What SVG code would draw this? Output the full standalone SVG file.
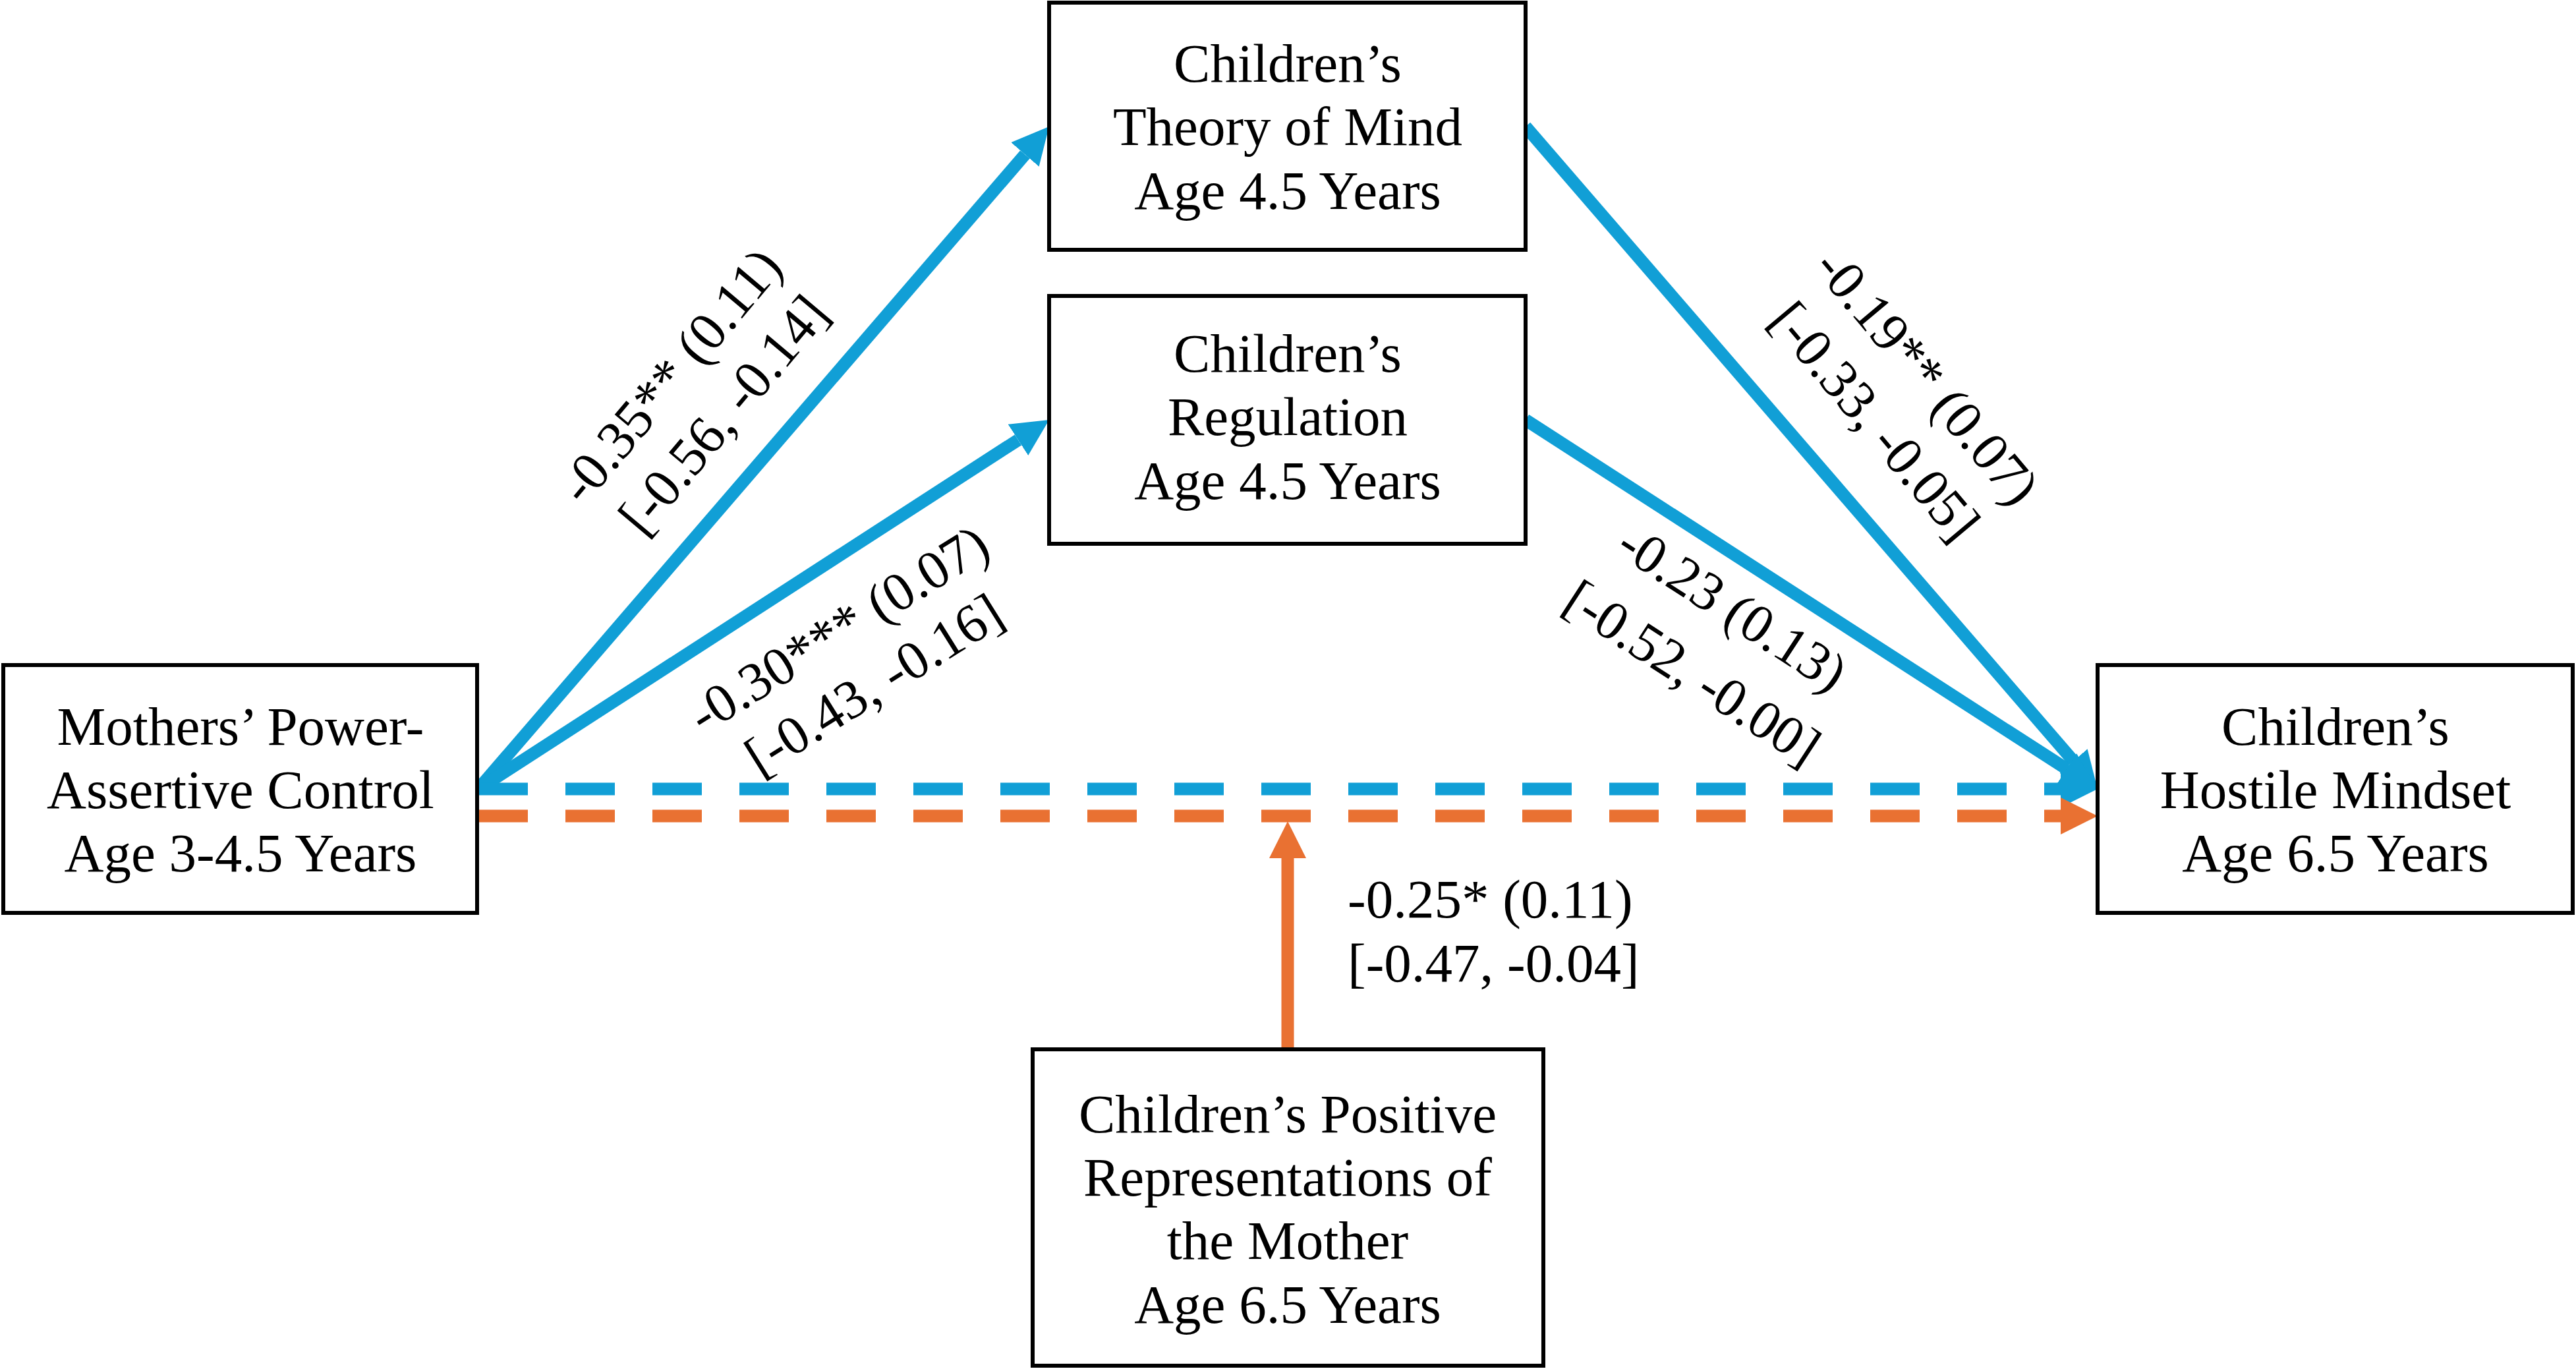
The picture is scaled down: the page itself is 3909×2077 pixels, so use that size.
<svg xmlns="http://www.w3.org/2000/svg" width="3909" height="2077" viewBox="0 0 3909 2077">
<style>
  .box { fill: #FFFFFF; stroke: #000000; stroke-width: 6; }
  .t { font-family: "Liberation Serif", "Times New Roman", serif; font-size: 83px; fill: #000000; }
  .c { text-anchor: middle; }
  .blue { stroke: #119FD6; stroke-width: 19; fill: none; }
  .orange { stroke: #E97132; stroke-width: 19; fill: none; }
  .dash { stroke-dasharray: 75 57; }
</style>
<defs>
  <marker id="arrBlue" markerUnits="userSpaceOnUse" viewBox="0 0 56 56" markerWidth="56" markerHeight="56" refX="0" refY="28" orient="auto">
    <path d="M0,0 L56,28 L0,56 Z" fill="#119FD6"/>
  </marker>
  <marker id="arrOrange" markerUnits="userSpaceOnUse" viewBox="0 0 56 56" markerWidth="56" markerHeight="56" refX="0" refY="28" orient="auto">
    <path d="M0,0 L56,28 L0,56 Z" fill="#E97132"/>
  </marker>
</defs>
<rect x="0" y="0" width="3909" height="2077" fill="#FFFFFF"/>

<g id="connectors">
  <line class="blue" x1="726" y1="1197" x2="1555.4" y2="234.4" marker-end="url(#arrBlue)"/>
  <line class="blue" x1="726" y1="1197" x2="1545.0" y2="667.4" marker-end="url(#arrBlue)"/>
  <line class="blue" x1="2315" y1="192" x2="3146.4" y2="1154.6" marker-end="url(#arrBlue)"/>
  <line class="blue" x1="2315" y1="637" x2="3135.9" y2="1166.6" marker-end="url(#arrBlue)"/>
  <line class="blue dash" x1="726" y1="1197" x2="3127" y2="1197" marker-end="url(#arrBlue)"/>
  <line class="orange dash" x1="726" y1="1238" x2="3127" y2="1238" marker-end="url(#arrOrange)"/>
  <line class="orange" x1="1954" y1="1590" x2="1954" y2="1302" marker-end="url(#arrOrange)"/>
</g>

<g id="edge-labels">
  <g transform="translate(1038,588) rotate(-50)"><text class="t c" x="0" y="0">-0.35** (0.11)</text></g>
  <g transform="translate(1119,647) rotate(-50)"><text class="t c" x="0" y="0">[-0.56, -0.14]</text></g>
  <g transform="translate(1287,978) rotate(-32)"><text class="t c" x="0" y="0">-0.30*** (0.07)</text></g>
  <g transform="translate(1341,1062) rotate(-32)"><text class="t c" x="0" y="0">[-0.43, -0.16]</text></g>
  <g transform="translate(2903,589) rotate(50)"><text class="t c" x="0" y="0">-0.19** (0.07)</text></g>
  <g transform="translate(2824,657) rotate(50)"><text class="t c" x="0" y="0">[-0.33, -0.05]</text></g>
  <g transform="translate(2614,945) rotate(33)"><text class="t c" x="0" y="0">-0.23 (0.13)</text></g>
  <g transform="translate(2553,1044) rotate(33)"><text class="t c" x="0" y="0">[-0.52, -0.00]</text></g>
  <text class="t" x="2045" y="1392">-0.25* (0.11)</text>
  <text class="t" x="2045" y="1489">[-0.47, -0.04]</text>
</g>

<g id="node-mothers">
  <rect class="box" x="5" y="1009" width="719" height="376"/>
  <text class="t c" x="365" y="1130">Mothers’ Power-</text>
  <text class="t c" x="365" y="1226">Assertive Control</text>
  <text class="t c" x="365" y="1322">Age 3-4.5 Years</text>
</g>

<g id="node-tom">
  <rect class="box" x="1592" y="4" width="723" height="375"/>
  <text class="t c" x="1954" y="124">Children’s</text>
  <text class="t c" x="1954" y="220">Theory of Mind</text>
  <text class="t c" x="1954" y="317">Age 4.5 Years</text>
</g>

<g id="node-regulation">
  <rect class="box" x="1592" y="449" width="723" height="376"/>
  <text class="t c" x="1954" y="564">Children’s</text>
  <text class="t c" x="1954" y="660">Regulation</text>
  <text class="t c" x="1954" y="757">Age 4.5 Years</text>
</g>

<g id="node-hostile">
  <rect class="box" x="3183" y="1009" width="721" height="376"/>
  <text class="t c" x="3544" y="1130">Children’s</text>
  <text class="t c" x="3544" y="1226">Hostile Mindset</text>
  <text class="t c" x="3544" y="1322">Age 6.5 Years</text>
</g>

<g id="node-positive">
  <rect class="box" x="1567" y="1592" width="775" height="480"/>
  <text class="t c" x="1954" y="1718">Children’s Positive</text>
  <text class="t c" x="1954" y="1814">Representations of</text>
  <text class="t c" x="1954" y="1910">the Mother</text>
  <text class="t c" x="1954" y="2007">Age 6.5 Years</text>
</g>
</svg>
